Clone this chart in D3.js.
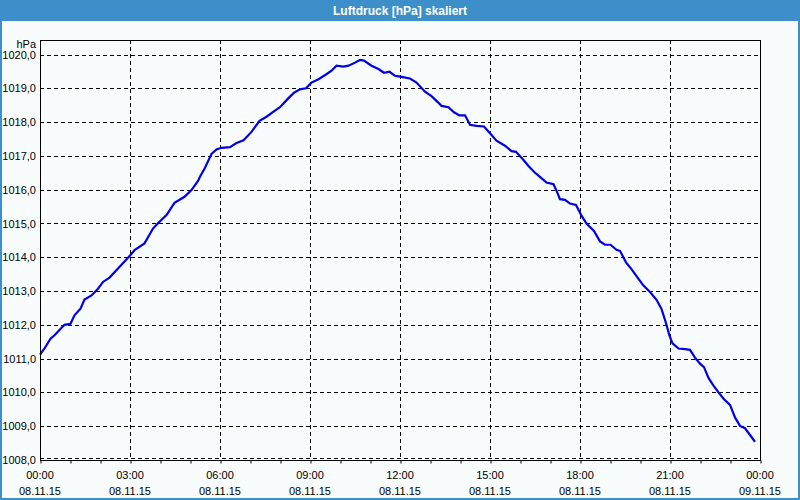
<!DOCTYPE html>
<html><head><meta charset="utf-8">
<script src="https://cdn.jsdelivr.net/npm/d3@7"></script>
<style>
html,body{margin:0;padding:0;background:#f8fcfc;}
svg{display:block;}
text{font-family:"Liberation Sans",Arial,sans-serif;font-size:11px;fill:#000;}
</style></head><body>
<script>
const title = "Luftdruck [hPa] skaliert";
const unitLabel = "hPa";
const minutes = [0,9,21,29,49,61,69,81,89,103,116,126,139,156,181,189,209,226,237,253,269,289,303,316,320,330,343,353,363,380,393,407,423,439,453,467,480,495,508,520,532,543,557,572,583,593,607,617,630,640,648,663,677,688,699,710,723,740,753,770,783,795,803,817,828,839,850,860,873,888,900,913,930,943,952,967,977,990,1000,1013,1027,1033,1040,1050,1060,1072,1083,1093,1108,1120,1130,1141,1153,1160,1172,1183,1197,1207,1220,1233,1243,1251,1259,1265,1277,1290,1300,1310,1320,1328,1337,1347,1357,1368,1380,1390,1400,1410,1420,1430];
const pressure = [1011.12,1011.3,1011.59,1011.69,1012.0,1012.03,1012.28,1012.48,1012.75,1012.87,1013.07,1013.27,1013.4,1013.67,1014.07,1014.21,1014.41,1014.85,1015.02,1015.25,1015.61,1015.79,1015.99,1016.26,1016.38,1016.65,1017.06,1017.19,1017.24,1017.26,1017.38,1017.46,1017.71,1018.04,1018.16,1018.31,1018.44,1018.68,1018.87,1018.97,1019.0,1019.17,1019.27,1019.41,1019.52,1019.67,1019.64,1019.67,1019.76,1019.84,1019.82,1019.67,1019.57,1019.46,1019.49,1019.37,1019.34,1019.29,1019.17,1018.9,1018.77,1018.6,1018.48,1018.44,1018.29,1018.2,1018.2,1017.92,1017.89,1017.87,1017.67,1017.45,1017.3,1017.14,1017.12,1016.88,1016.7,1016.5,1016.38,1016.21,1016.16,1015.97,1015.72,1015.7,1015.59,1015.55,1015.23,1015.0,1014.78,1014.47,1014.37,1014.37,1014.22,1014.19,1013.85,1013.65,1013.36,1013.16,1012.97,1012.74,1012.47,1012.1,1011.68,1011.45,1011.3,1011.28,1011.26,1011.03,1010.85,1010.75,1010.43,1010.2,1010.0,1009.8,1009.63,1009.26,1009.01,1008.94,1008.74,1008.54];
const yTicks = [1008,1009,1010,1011,1012,1013,1014,1015,1016,1017,1018,1019,1020];
const xTickTimes = ["00:00","03:00","06:00","09:00","12:00","15:00","18:00","21:00","00:00"];
const xTickDates = ["08.11.15","08.11.15","08.11.15","08.11.15","08.11.15","08.11.15","08.11.15","08.11.15","09.11.15"];
const startMs = Date.UTC(2015,10,8,0,0);

const W=800,H=500;
const L=40,R=760,T=40,B=460;
const svg=d3.select("body").append("svg").attr("width",W).attr("height",H);
svg.append("rect").attr("x",0).attr("y",0).attr("width",W).attr("height",H).attr("fill","#f8fcfc");
svg.append("rect").attr("x",1).attr("y",1).attr("width",W-2).attr("height",H-2).attr("fill","none").attr("stroke","#3c8fc8").attr("stroke-width",2);
svg.append("rect").attr("x",0).attr("y",0).attr("width",W).attr("height",21).attr("fill","#3c8fc8");
svg.append("text").attr("x",W/2).attr("y",15).attr("text-anchor","middle").style("font-weight","bold").style("font-size","12px").style("fill","#fff").text(title);

const x=d3.scaleUtc().domain([new Date(startMs),new Date(startMs+24*3600e3)]).range([L,R]);
const y=d3.scaleLinear().domain([1008,1020.43]).range([B,T]);

const g=svg.append("g");
yTicks.forEach(v=>{
  const yy=Math.round(y(v))+0.5 - (v===1008?2:0);
  g.append("line").attr("x1",L).attr("x2",R).attr("y1",yy).attr("y2",yy).attr("stroke","#000").attr("stroke-dasharray","4,3");
});
const majorDates=d3.range(0,25,3).map(h=>new Date(startMs+h*3600e3));
majorDates.slice(1,-1).forEach(d=>{
  const xx=Math.round(x(d))+0.5;
  g.append("line").attr("x1",xx).attr("x2",xx).attr("y1",T).attr("y2",B).attr("stroke","#000").attr("stroke-dasharray","4,3");
});

const data=minutes.map((m,i)=>({t:new Date(startMs+m*60e3),v:pressure[i]}));
svg.append("path").datum(data).attr("fill","none").attr("stroke","#0000e8").attr("stroke-width",2.2)
  .attr("d",d3.line().x(d=>x(d.t)).y(d=>y(d.v)));

svg.append("rect").attr("x",L+0.5).attr("y",T+0.5).attr("width",R-L).attr("height",B-T).attr("fill","none").attr("stroke","#000");

const xAxis=d3.axisBottom(x).ticks(d3.utcHour.every(1)).tickSize(3).tickFormat("");
const xa=svg.append("g").attr("transform",`translate(0.5,${B+0.5})`).call(xAxis);
xa.select(".domain").remove();
xa.selectAll("line").attr("stroke","#000");
majorDates.forEach((d,i)=>{
  svg.append("text").attr("x",x(d)).attr("y",479).attr("text-anchor","middle").text(xTickTimes[i]);
  svg.append("text").attr("x",x(d)).attr("y",495).attr("text-anchor","middle").text(xTickDates[i]);
});
const yAxis=d3.axisLeft(y).tickValues(yTicks).tickSize(0).tickPadding(4).tickFormat(v=>d3.format(".1f")(v).replace(".",","));
const ya=svg.append("g").attr("transform",`translate(${L},0)`).call(yAxis);
ya.select(".domain").remove();
ya.selectAll("text").style("font-family","'Liberation Sans',Arial,sans-serif").style("font-size","11px").attr("fill","#000");
svg.append("text").attr("x",36).attr("y",47.5).attr("text-anchor","end").text(unitLabel);
</script></body></html>
